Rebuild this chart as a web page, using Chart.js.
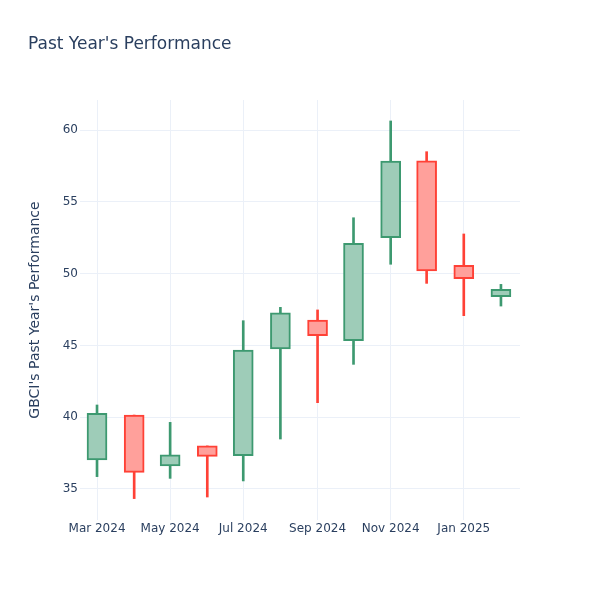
<!DOCTYPE html>
<html lang="en">
<head>
    <meta charset="UTF-8">
    <title>Past Year's Performance</title>
    <script src="https://cdn.jsdelivr.net/npm/chart.js"></script>
    <style>
        * { margin: 0; padding: 0; box-sizing: border-box; }
        body { background: #FFFFFF; }
        .chart-box { width: 600px; height: 600px; }
    </style>
</head>
<body>
    <div class="chart-box">
        <canvas id="candleChart"></canvas>
    </div>

    <script>
        // monthly candles
        const months = ['2024-03-01', '2024-04-01', '2024-05-01', '2024-06-01', '2024-07-01', '2024-08-01',
                        '2024-09-01', '2024-10-01', '2024-11-01', '2024-12-01', '2025-01-01', '2025-02-01'];
        const openValues  = [37.02, 40.15, 36.60, 38.00, 37.32, 44.75, 46.77, 45.33, 52.50, 57.86, 50.58, 48.39];
        const highValues  = [40.85, 40.15, 39.64, 38.00, 46.72, 47.65, 47.47, 53.89, 60.63, 58.49, 52.76, 49.25];
        const lowValues   = [35.86, 34.33, 35.74, 34.44, 35.56, 38.48, 41.01, 43.68, 50.65, 49.32, 47.07, 47.74];
        const closeValues = [40.27, 36.16, 37.37, 37.27, 44.68, 47.26, 45.68, 52.11, 57.84, 50.18, 49.65, 48.91];

        const xTickDates = ['2024-03-01', '2024-05-01', '2024-07-01', '2024-09-01', '2024-11-01', '2025-01-01'];
        const xTickLabels = ['Mar 2024', 'May 2024', 'Jul 2024', 'Sep 2024', 'Nov 2024', 'Jan 2025'];
        const yTickValues = [35, 40, 45, 50, 55, 60];

        const UP_LINE = '#3D9970';
        const UP_FILL = '#9ECCB8';
        const DOWN_LINE = '#FF4136';
        const DOWN_FILL = '#FFA09B';
        const TEXT = '#2a3f5f';
        const GRID = '#EBF0F8';

        // days since the first candle, used as the x value
        const baseTime = Date.parse(months[0] + 'T00:00:00Z');
        const toDay = d => (Date.parse(d + 'T00:00:00Z') - baseTime) / 86400000;

        const isUp = months.map((m, i) => closeValues[i] >= openValues[i]);
        const lineColors = isUp.map(up => up ? UP_LINE : DOWN_LINE);
        const fillColors = isUp.map(up => up ? UP_FILL : DOWN_FILL);

        const bodyData = months.map((m, i) => ({ x: toDay(m), y: [openValues[i], closeValues[i]] }));
        const wickData = months.map((m, i) => ({ x: toDay(m), y: [lowValues[i], highValues[i]] }));

        Chart.defaults.font.family = '"DejaVu Sans", Verdana, sans-serif';
        Chart.defaults.color = TEXT;

        new Chart(document.getElementById('candleChart'), {
            type: 'bar',
            data: {
                datasets: [
                    {
                        // first dataset is drawn on top
                        label: 'body',
                        data: bodyData,
                        backgroundColor: fillColors,
                        borderColor: lineColors,
                        borderWidth: 2,
                        borderSkipped: false,
                        barThickness: 20,
                        grouped: false
                    },
                    {
                        label: 'wick',
                        data: wickData,
                        backgroundColor: lineColors,
                        borderWidth: 0,
                        barThickness: 2,
                        grouped: false
                    }
                ]
            },
            options: {
                responsive: true,
                maintainAspectRatio: false,
                animation: false,
                layout: { padding: { left: 28, right: 80, top: 0, bottom: 0 } },
                plugins: {
                    legend: { display: false },
                    tooltip: { enabled: false },
                    title: {
                        display: true,
                        text: "Past Year's Performance",
                        align: 'start',
                        color: TEXT,
                        font: { size: 17, weight: 'normal' },
                        padding: { top: 34, bottom: 45.6 }
                    }
                },
                scales: {
                    x: {
                        type: 'linear',
                        offset: false,
                        min: -14.2,
                        max: 352.9,
                        grid: { color: GRID, drawTicks: false, offset: false },
                        border: { display: false },
                        ticks: {
                            padding: 2,
                            maxRotation: 0,
                            font: { size: 12 },
                            callback: (value) => {
                                const idx = xTickDates.findIndex(d => toDay(d) === value);
                                return idx >= 0 ? xTickLabels[idx] : '';
                            }
                        },
                        afterBuildTicks: (scale) => {
                            scale.ticks = xTickDates.map(d => ({ value: toDay(d) }));
                        },
                        afterFit: (scale) => { scale.height = 80; }
                    },
                    y: {
                        min: 32.84,
                        max: 62.09,
                        grid: { color: GRID, drawTicks: false },
                        border: { display: false },
                        ticks: { padding: 2, font: { size: 12 } },
                        afterBuildTicks: (scale) => {
                            scale.ticks = yTickValues.map(v => ({ value: v }));
                        },
                        afterFit: (scale) => { scale.width = 52; },
                        title: {
                            display: true,
                            text: "GBCI's Past Year's Performance",
                            color: TEXT,
                            font: { size: 14, lineHeight: 1 },
                            padding: 0
                        }
                    }
                }
            }
        });
    </script>
</body>
</html>
